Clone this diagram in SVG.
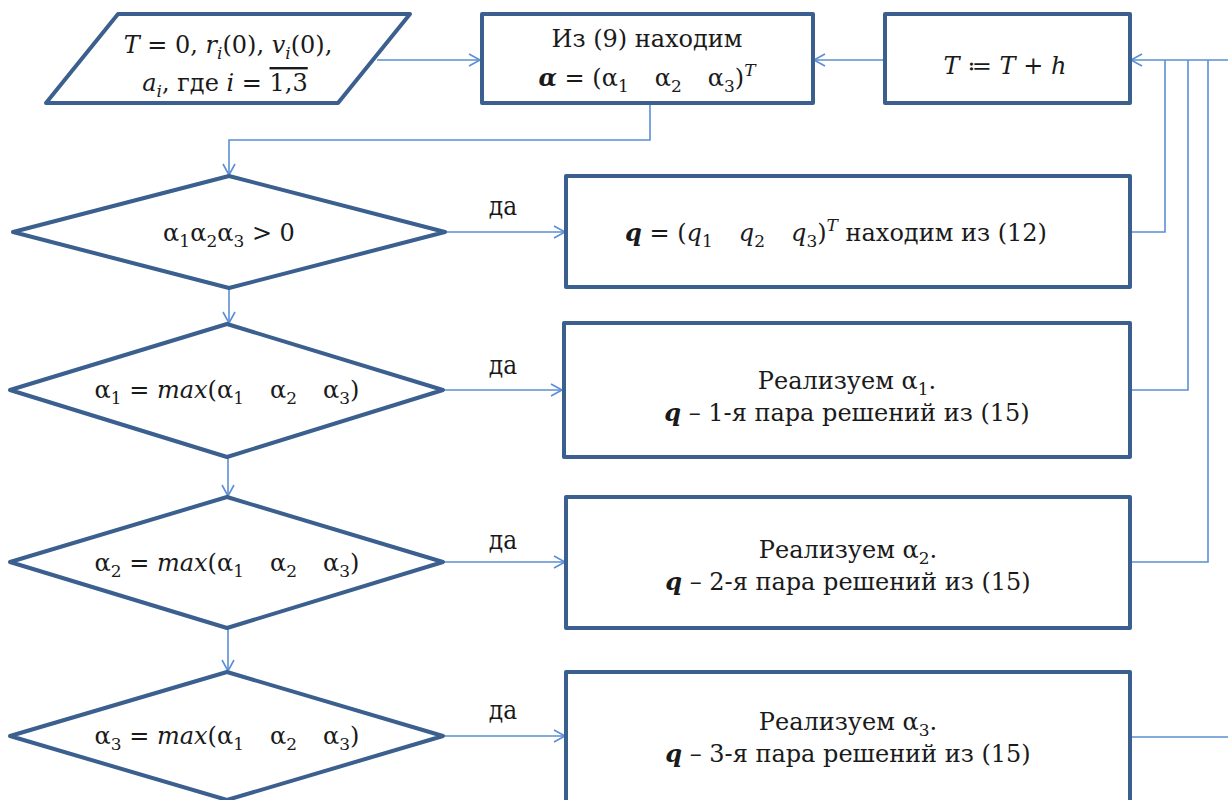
<svg xmlns="http://www.w3.org/2000/svg" width="1228" height="800" viewBox="0 0 1228 800">
<style>
.n{fill:#fff;stroke:#3b5f8e;stroke-width:4;stroke-linejoin:round}
.c{fill:none;stroke:#5b8fd3;stroke-width:1.6}
.t{font-family:"DejaVu Serif","Liberation Serif",serif;font-size:24px;fill:#1a1a1a;text-anchor:middle}
.d{font-family:"DejaVu Serif Condensed","DejaVu Serif",serif;font-size:26px;fill:#1a1a1a;text-anchor:middle}
.i{font-style:italic}
.b{font-weight:bold;font-style:italic}
.s{font-size:17px}
</style>
<defs>
<marker id="a" markerWidth="14" markerHeight="14" refX="12" refY="7" orient="auto" markerUnits="userSpaceOnUse">
<path d="M1,1 L12,7 L1,13" fill="none" stroke="#5b8fd3" stroke-width="1.6"/>
</marker>
</defs>
<g id="connectors">
<path class="c" d="M377,60 H480" marker-end="url(#a)"/>
<path class="c" d="M885,60 H814" marker-end="url(#a)"/>
<path class="c" d="M650,104 V140 H229 V175" marker-end="url(#a)"/>
<path class="c" d="M229,289 V323" marker-end="url(#a)"/>
<path class="c" d="M228,458 V496" marker-end="url(#a)"/>
<path class="c" d="M228,629 V671" marker-end="url(#a)"/>
<path class="c" d="M446,232 H565" marker-end="url(#a)"/>
<path class="c" d="M444,390 H562" marker-end="url(#a)"/>
<path class="c" d="M444,562 H565" marker-end="url(#a)"/>
<path class="c" d="M444,736 H565" marker-end="url(#a)"/>
<path class="c" d="M1131,232 H1165 V60"/>
<path class="c" d="M1131,390 H1188 V60"/>
<path class="c" d="M1131,562 H1208 V60"/>
<path class="c" d="M1228,60 H1131" marker-end="url(#a)"/>
<path class="c" d="M1131,737 H1228"/>
<text class="d" x="503" y="215">да</text>
<text class="d" x="503" y="374">да</text>
<text class="d" x="503" y="549">да</text>
<text class="d" x="503" y="719">да</text>
</g>
<g id="start">
<polygon class="n" points="118,14 410,14 338,103 46,103"/>
<text class="t" x="228" y="53"><tspan class="i">T</tspan> = 0, <tspan class="i">r</tspan><tspan class="i s" dy="6">i</tspan><tspan dy="-6">(0), </tspan><tspan class="i">v</tspan><tspan class="i s" dy="6">i</tspan><tspan dy="-6">(0),</tspan></text>
<text class="t" x="225" y="91"><tspan class="i">a</tspan><tspan class="i s" dy="6">i</tspan><tspan dy="-6">, где </tspan><tspan class="i">i</tspan> = <tspan text-decoration="overline">1,3</tspan></text>
</g>
<g id="find-alpha">
<rect class="n" x="482" y="14" width="331" height="89"/>
<text class="t" x="647" y="47">Из (9) находим</text>
<text class="t" x="647" y="86"><tspan class="b">α</tspan> = (α<tspan class="s" dy="6">1</tspan><tspan dy="-6" dx="26">α</tspan><tspan class="s" dy="6">2</tspan><tspan dy="-6" dx="26">α</tspan><tspan class="s" dy="6">3</tspan><tspan dy="-6">)</tspan><tspan class="i s" dy="-10">T</tspan></text>
</g>
<g id="step">
<rect class="n" x="885" y="14" width="245" height="89"/>
<text class="t" x="1005" y="74"><tspan class="i">T</tspan> ≔ <tspan class="i">T</tspan> + <tspan class="i">h</tspan></text>
</g>
<g id="cond0">
<polygon class="n" points="229,176 445,232 229,288 13,232"/>
<text class="t" x="229" y="241">α<tspan class="s" dy="6">1</tspan><tspan dy="-6">α</tspan><tspan class="s" dy="6">2</tspan><tspan dy="-6">α</tspan><tspan class="s" dy="6">3</tspan><tspan dy="-6"> &gt; 0</tspan></text>
</g>
<g id="q12">
<rect class="n" x="566" y="176" width="564" height="111"/>
<text class="t" x="836" y="241"><tspan class="b">q</tspan> = (<tspan class="i">q</tspan><tspan class="s" dy="6">1</tspan><tspan class="i" dy="-6" dx="26">q</tspan><tspan class="s" dy="6">2</tspan><tspan class="i" dy="-6" dx="26">q</tspan><tspan class="s" dy="6">3</tspan><tspan dy="-6">)</tspan><tspan class="i s" dy="-10">T</tspan><tspan dy="10"> находим из (12)</tspan></text>
</g>
<g id="cond1">
<polygon class="n" points="227,324 443,390 227,457 10,390"/>
<text class="t" x="227" y="398">α<tspan class="s" dy="6">1</tspan><tspan dy="-6"> = </tspan><tspan class="i">max</tspan>(α<tspan class="s" dy="6">1</tspan><tspan dy="-6" dx="26">α</tspan><tspan class="s" dy="6">2</tspan><tspan dy="-6" dx="26">α</tspan><tspan class="s" dy="6">3</tspan><tspan dy="-6">)</tspan></text>
</g>
<g id="sol1">
<rect class="n" x="564" y="323" width="566" height="134"/>
<text class="t" x="847" y="389">Реализуем α<tspan class="s" dy="6">1</tspan><tspan dy="-6">.</tspan></text>
<text class="t" x="847" y="421"><tspan class="b">q</tspan> – 1-я пара решений из (15)</text>
</g>
<g id="cond2">
<polygon class="n" points="227,497 443,562 227,628 10,562"/>
<text class="t" x="227" y="571">α<tspan class="s" dy="6">2</tspan><tspan dy="-6"> = </tspan><tspan class="i">max</tspan>(α<tspan class="s" dy="6">1</tspan><tspan dy="-6" dx="26">α</tspan><tspan class="s" dy="6">2</tspan><tspan dy="-6" dx="26">α</tspan><tspan class="s" dy="6">3</tspan><tspan dy="-6">)</tspan></text>
</g>
<g id="sol2">
<rect class="n" x="566" y="497" width="564" height="131"/>
<text class="t" x="848" y="558">Реализуем α<tspan class="s" dy="6">2</tspan><tspan dy="-6">.</tspan></text>
<text class="t" x="848" y="590"><tspan class="b">q</tspan> – 2-я пара решений из (15)</text>
</g>
<g id="cond3">
<polygon class="n" points="227,672 443,736 227,800 10,736"/>
<text class="t" x="227" y="744">α<tspan class="s" dy="6">3</tspan><tspan dy="-6"> = </tspan><tspan class="i">max</tspan>(α<tspan class="s" dy="6">1</tspan><tspan dy="-6" dx="26">α</tspan><tspan class="s" dy="6">2</tspan><tspan dy="-6" dx="26">α</tspan><tspan class="s" dy="6">3</tspan><tspan dy="-6">)</tspan></text>
</g>
<g id="sol3">
<rect class="n" x="566" y="672" width="564" height="135"/>
<text class="t" x="848" y="730">Реализуем α<tspan class="s" dy="6">3</tspan><tspan dy="-6">.</tspan></text>
<text class="t" x="848" y="762"><tspan class="b">q</tspan> – 3-я пара решений из (15)</text>
</g>
</svg>
